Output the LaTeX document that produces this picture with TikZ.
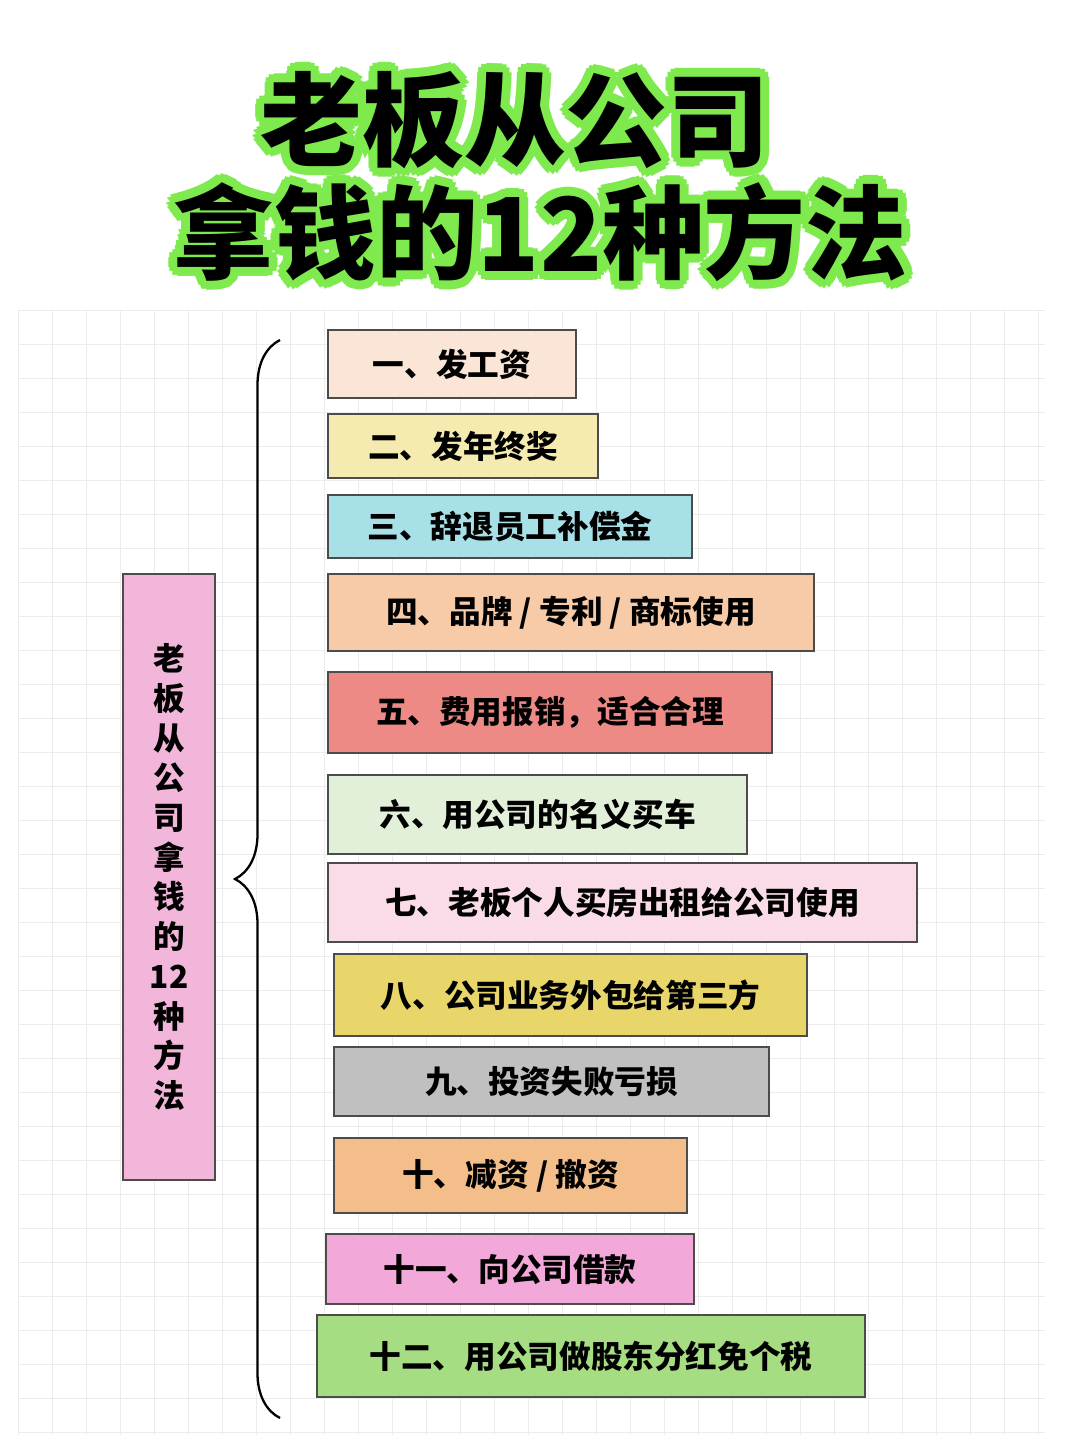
\documentclass[tikz,border=0pt]{standalone}
\usepackage{fontspec}
\setmainfont{Noto Sans CJK SC}
\usetikzlibrary{calc}
\usetikzlibrary{decorations.pathreplacing}
\definecolor{cA}{HTML}{FBE5D6}
\definecolor{cB}{HTML}{F5EBB0}
\definecolor{cC}{HTML}{A8E0E8}
\definecolor{cD}{HTML}{F8CBA8}
\definecolor{cE}{HTML}{EE8A86}
\definecolor{cF}{HTML}{E2F0D9}
\definecolor{cG}{HTML}{FADCE8}
\definecolor{cH}{HTML}{E8D66A}
\definecolor{cI}{HTML}{C0C0C0}
\definecolor{cJ}{HTML}{F4BE8A}
\definecolor{cK}{HTML}{F2A8D8}
\definecolor{cL}{HTML}{A6DC82}
\definecolor{cRoot}{HTML}{F2B6DB}
\definecolor{glow}{HTML}{7EEA4E}
\definecolor{gridc}{HTML}{ECECEC}
\tikzset{item/.style = {draw = black!70, line width = 1.2pt, anchor = north west, inner sep = 0pt, font = \fontsize{18}{20}\selectfont\bfseries},
  titletext/.style = {font = \fontsize{58}{60}\selectfont\bfseries}}

\begin{document}
\begin{tikzpicture}[x = 0.02cm, y = -0.02cm]
  % canvas
  \useasboundingbox (0,0) rectangle (1080,1440);
  \fill[white] (0,0) rectangle (1080,1440);
  \foreach \gx in {18,52,...,1045} \draw[gridc] (\gx,310) -- (\gx,1435);
  \foreach \gy in {310,344,...,1435} \draw[gridc] (18,\gy) -- (1045,\gy);
  % title
  \foreach \a in {0,30,...,330} {
    \node[titletext, text = glow] at ($(515,120)+(\a:9)$) {老板从公司};
    \node[titletext, text = glow] at ($(540,232)+(\a:9)$) {拿钱的12种方法};
  }
  \node[titletext] (t1) at (515,120) {老板从公司};
  \node[titletext] (t2) at (540,232) {拿钱的12种方法};
  % root
  \node[draw = black!70, line width = 1.2pt, fill = cRoot, minimum width = 92*0.02cm, minimum height = 606*0.02cm, anchor = north west, align = center, font = \fontsize{18}{22.6}\selectfont\bfseries] (root) at (122,573) {老\\板\\从\\公\\司\\拿\\钱\\的\\12\\种\\方\\法};
  % brace
  \draw[line width = 1.3pt, decorate, decoration = {brace, amplitude = 0.9cm}] (280,1418) -- (280,340);
  % items
  \node[item, fill = cA, minimum width = 248*0.02cm, minimum height = 68*0.02cm] (m1) at (327,329) {一、发工资};
  \node[item, fill = cB, minimum width = 270*0.02cm, minimum height = 64*0.02cm] (m2) at (327,413) {二、发年终奖};
  \node[item, fill = cC, minimum width = 364*0.02cm, minimum height = 63*0.02cm] (m3) at (327,494) {三、辞退员工补偿金};
  \node[item, fill = cD, minimum width = 486*0.02cm, minimum height = 77*0.02cm] (m4) at (327,573) {四、品牌 / 专利 / 商标使用};
  \node[item, fill = cE, minimum width = 444*0.02cm, minimum height = 81*0.02cm] (m5) at (327,671) {五、费用报销，适合合理};
  \node[item, fill = cF, minimum width = 419*0.02cm, minimum height = 79*0.02cm] (m6) at (327,774) {六、用公司的名义买车};
  \node[item, fill = cG, minimum width = 589*0.02cm, minimum height = 79*0.02cm] (m7) at (327,862) {七、老板个人买房出租给公司使用};
  \node[item, fill = cH, minimum width = 473*0.02cm, minimum height = 82*0.02cm] (m8) at (333,953) {八、公司业务外包给第三方};
  \node[item, fill = cI, minimum width = 435*0.02cm, minimum height = 69*0.02cm] (m9) at (333,1046) {九、投资失败亏损};
  \node[item, fill = cJ, minimum width = 353*0.02cm, minimum height = 75*0.02cm] (m10) at (333,1137) {十、减资 / 撤资};
  \node[item, fill = cK, minimum width = 368*0.02cm, minimum height = 70*0.02cm] (m11) at (325,1233) {十一、向公司借款};
  \node[item, fill = cL, minimum width = 548*0.02cm, minimum height = 82*0.02cm] (m12) at (316,1314) {十二、用公司做股东分红免个税};
\end{tikzpicture}
\end{document}
